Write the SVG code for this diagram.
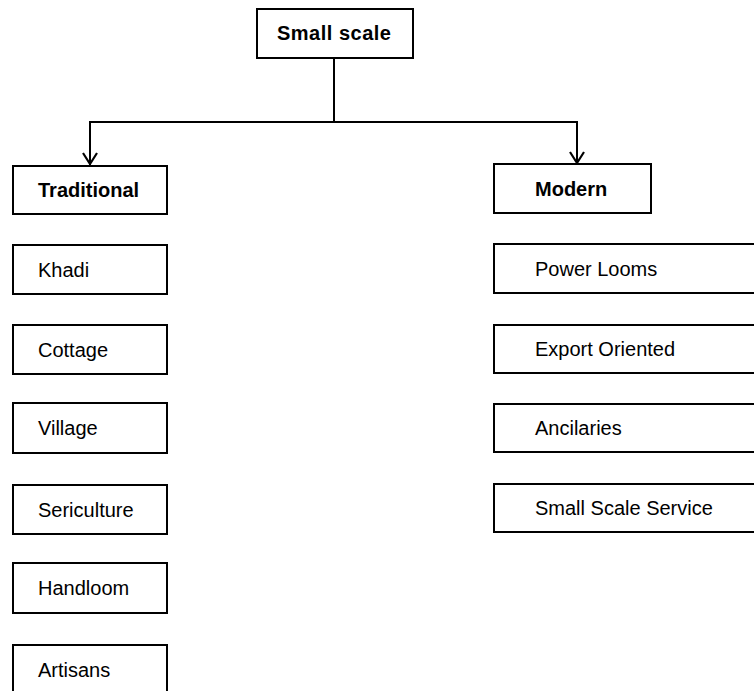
<svg xmlns="http://www.w3.org/2000/svg" width="754" height="691" viewBox="0 0 754 691">
<style>
.box{fill:#fff;stroke:#000;stroke-width:2}
.t{font-family:"Liberation Sans",Arial,sans-serif;font-size:20px;fill:#000}
.b{font-weight:bold}
.c{fill:none;stroke:#000;stroke-width:2}
</style>
<defs>
<marker id="v" viewBox="0 0 16 12" refX="8" refY="11" markerWidth="16" markerHeight="12" markerUnits="userSpaceOnUse" orient="auto-start-reverse">
<path d="M1 1 L8 11 L15 1" fill="none" stroke="#000" stroke-width="2"/>
</marker>
</defs>
<rect width="754" height="691" fill="#fff"/>
<g id="connectors">
<line class="c" x1="334" y1="58" x2="334" y2="122"/>
<polyline class="c" points="90,165 90,122 577,122 577,163"/>
<path d="M83 153 L90 164 L97 153 M570 152 L577 163 L584 152" fill="none" stroke="#000" stroke-width="2.2"/>
</g>
<g id="small-scale"><rect class="box" x="257" y="9" width="156" height="49"/><text class="t b" x="277" y="40" letter-spacing="0.5">Small scale</text></g>
<g id="traditional"><rect class="box" x="13" y="166" width="154" height="48"/><text class="t b" x="38" y="197">Traditional</text></g>
<g id="khadi"><rect class="box" x="13" y="245" width="154" height="49"/><text class="t" x="38" y="277">Khadi</text></g>
<g id="cottage"><rect class="box" x="13" y="325" width="154" height="49"/><text class="t" x="38" y="357">Cottage</text></g>
<g id="village"><rect class="box" x="13" y="403" width="154" height="50"/><text class="t" x="38" y="435">Village</text></g>
<g id="sericulture"><rect class="box" x="13" y="485" width="154" height="49"/><text class="t" x="38" y="517">Sericulture</text></g>
<g id="handloom"><rect class="box" x="13" y="563" width="154" height="50"/><text class="t" x="38" y="595">Handloom</text></g>
<g id="artisans"><rect class="box" x="13" y="645" width="154" height="60"/><text class="t" x="38" y="677">Artisans</text></g>
<g id="modern"><rect class="box" x="494" y="164" width="157" height="49"/><text class="t b" x="535" y="196">Modern</text></g>
<g id="power-looms"><rect class="box" x="494" y="244" width="270" height="49"/><text class="t" x="535" y="276">Power Looms</text></g>
<g id="export-oriented"><rect class="box" x="494" y="325" width="270" height="48"/><text class="t" x="535" y="356">Export Oriented</text></g>
<g id="ancilaries"><rect class="box" x="494" y="404" width="270" height="48"/><text class="t" x="535" y="435">Ancilaries</text></g>
<g id="small-scale-service"><rect class="box" x="494" y="484" width="270" height="48"/><text class="t" x="535" y="515">Small Scale Service</text></g>
</svg>
